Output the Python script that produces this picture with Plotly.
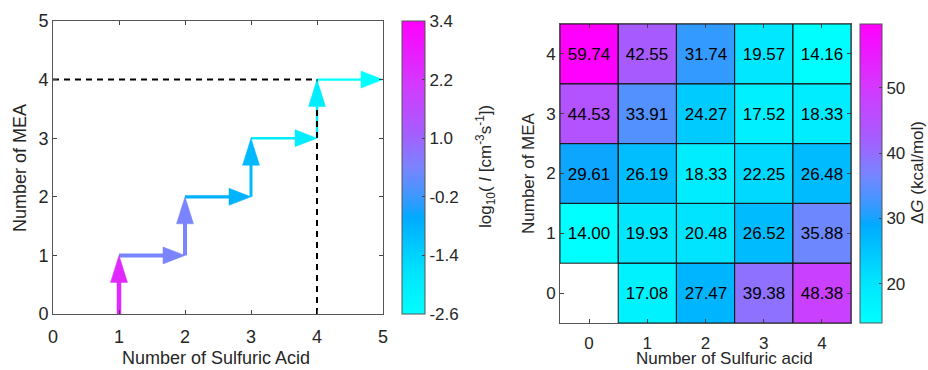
import plotly.graph_objects as go
from plotly.colors import sample_colorscale

# ---------------- data ----------------
# Left panel: growth pathway arrows (start -> end) and their log10(J) values
arrow_x0 = [1, 1, 2, 2, 3, 3, 4, 4]
arrow_y0 = [0, 1, 1, 2, 2, 3, 3, 4]
arrow_x1 = [1, 2, 2, 3, 3, 4, 4, 5]
arrow_y1 = [1, 1, 2, 2, 3, 3, 4, 4]
arrow_logJ = [2.5, 0.4, 0.4, -0.8, -0.9, -2.0, -2.0, -2.6]
guide_h_x = [0, 4]
guide_h_y = [4, 4]
guide_v_x = [4, 4]
guide_v_y = [0, 4]
logJ_ticks = [-2.6, -1.4, -0.2, 1.0, 2.2, 3.4]
axis_ticks_left = [0, 1, 2, 3, 4, 5]

# Right panel: free energy heat map  dG[MEA][SA]
n_sa = [0, 1, 2, 3, 4]
n_mea = [0, 1, 2, 3, 4]
dG_mea0 = [None, 17.08, 27.47, 39.38, 48.38]
dG_mea1 = [14.00, 19.93, 20.48, 26.52, 35.88]
dG_mea2 = [29.61, 26.19, 18.33, 22.25, 26.48]
dG_mea3 = [44.53, 33.91, 24.27, 17.52, 18.33]
dG_mea4 = [59.74, 42.55, 31.74, 19.57, 14.16]
dG_ticks = [20, 30, 40, 50]

# ---------------- style ----------------
FONT = "Liberation Sans, Arial, sans-serif"
TXT = "#262626"
cscale = [
    [0.0, "#00FFFF"], [0.15, "#00E2FF"], [0.33, "#00AAFF"], [0.36, "#1FA0FF"],
    [0.42, "#4A94FF"], [0.5, "#7A84FF"], [0.62, "#A65CFF"], [0.78, "#D23AFF"],
    [1.0, "#FF00FF"],
]
widths = [4.5, 4, 4, 3.2, 3, 2.4, 2.4, 2.2]
W, H = 928, 370
L_dom_x = [53 / W, 383 / W]
L_dom_y = [(H - 314) / H, (H - 21) / H]
R_dom_x = [560 / W, 851 / W]
R_dom_y = [(H - 323) / H, (H - 24) / H]
px_per_x = (383 - 53) / 5.0
px_per_y = (314 - 21) / 5.0
HEAD_LEN_V, HEAD_LEN_H, HEAD_HALF = 27.0, 22.0, 8.5

jmin, jmax = logJ_ticks[0], logJ_ticks[-1]
arrow_cols = sample_colorscale(cscale, [(v - jmin) / (jmax - jmin) for v in arrow_logJ])

fig = go.Figure()

# arrow shafts
heads = []
for i in range(len(arrow_x0)):
    dxp = (arrow_x1[i] - arrow_x0[i]) * px_per_x
    dyp = (arrow_y1[i] - arrow_y0[i]) * px_per_y
    lp = (dxp ** 2 + dyp ** 2) ** 0.5
    ux, uy = dxp / lp, dyp / lp
    hl = HEAD_LEN_V if abs(uy) > abs(ux) else HEAD_LEN_H
    bx = arrow_x1[i] - ux * hl / px_per_x
    by = arrow_y1[i] - uy * hl / px_per_y
    fig.add_trace(go.Scatter(
        x=[arrow_x0[i], bx + ux * 2 / px_per_x], y=[arrow_y0[i], by + uy * 2 / px_per_y],
        mode="lines", line=dict(color=arrow_cols[i], width=widths[i]),
        hoverinfo="skip", showlegend=False, xaxis="x", yaxis="y"))
    pxn, pyn = -uy, ux
    hx = [arrow_x1[i], bx + pxn * HEAD_HALF / px_per_x, bx - pxn * HEAD_HALF / px_per_x, arrow_x1[i]]
    hy = [arrow_y1[i], by + pyn * HEAD_HALF / px_per_y, by - pyn * HEAD_HALF / px_per_y, arrow_y1[i]]
    heads.append((hx, hy, arrow_cols[i]))

# dashed guides
for gx, gy in [(guide_h_x, guide_h_y), (guide_v_x, guide_v_y)]:
    fig.add_trace(go.Scatter(x=gx, y=gy, mode="lines",
                             line=dict(color="black", width=2, dash="6px,5px"),
                             hoverinfo="skip", showlegend=False, xaxis="x", yaxis="y"))

# arrow heads
for hx, hy, c in heads:
    fig.add_trace(go.Scatter(x=hx, y=hy, mode="lines", fill="toself", fillcolor=c,
                             line=dict(color=c, width=0.5), hoverinfo="skip",
                             showlegend=False, xaxis="x", yaxis="y"))

# colorbar for log10 J
fig.add_trace(go.Scatter(
    x=arrow_x0, y=arrow_y0, mode="markers",
    marker=dict(size=1, opacity=0, color=arrow_logJ, colorscale=cscale, cmin=jmin, cmax=jmax,
                showscale=True,
                colorbar=dict(
                    x=402 / W, xanchor="left", xref="paper",
                    y=(L_dom_y[0] + L_dom_y[1]) / 2, yanchor="middle", len=L_dom_y[1] - L_dom_y[0],
                    lenmode="fraction", thickness=23, thicknessmode="pixels",
                    outlinecolor="#555", outlinewidth=1,
                    tickvals=logJ_ticks, ticktext=[f"{v:.1f}" for v in logJ_ticks],
                    ticks="inside", ticklen=3, tickcolor="#444",
                    tickfont=dict(family=FONT, size=17, color=TXT), ypad=0, xpad=0)),
    hoverinfo="skip", showlegend=False, xaxis="x", yaxis="y"))

# heatmap
z = [dG_mea0, dG_mea1, dG_mea2, dG_mea3, dG_mea4]
txt = [[" " if v is None else f"{v:.2f}" for v in row] for row in z]
zvals = [v for row in z for v in row if v is not None]
fig.add_trace(go.Heatmap(
    x=n_sa, y=n_mea, z=z, text=txt, texttemplate="%{text}",
    textfont=dict(family=FONT, size=17, color="black"),
    colorscale=cscale, zmin=min(zvals), zmax=max(zvals), xaxis="x2", yaxis="y2",
    colorbar=dict(
        x=860 / W, xanchor="left", y=(R_dom_y[0] + R_dom_y[1]) / 2, yanchor="middle",
        len=R_dom_y[1] - R_dom_y[0], thickness=22, outlinecolor="#555", outlinewidth=1,
        tickvals=dG_ticks, ticks="inside", ticklen=3, tickcolor="#444",
        tickfont=dict(family=FONT, size=17, color=TXT), ypad=0, xpad=0),
    hoverinfo="skip"))

# cell borders
for j, row in enumerate(z):
    for i, v in enumerate(row):
        if v is None:
            continue
        fig.add_shape(type="rect", xref="x2", yref="y2",
                      x0=n_sa[i] - 0.5, x1=n_sa[i] + 0.5, y0=n_mea[j] - 0.5, y1=n_mea[j] + 0.5,
                      line=dict(color="#1a1a1a", width=1), layer="above")

# axis / colorbar titles as annotations (paper coords)
def ann(text, xp, yp, size, angle=0, yanchor="middle"):
    fig.add_annotation(text=text, x=xp / W, y=1 - yp / H, xref="paper", yref="paper",
                       showarrow=False, textangle=angle, xanchor="center", yanchor=yanchor,
                       font=dict(family=FONT, size=size, color=TXT), borderpad=0)

ann("Number of Sulfuric Acid", 216, 358, 18)
ann("Number of MEA", 20, 168, 18, -90)
ann("Number of Sulfuric acid", 724, 358, 17)
ann("Number of MEA", 528, 173, 17, -90)
ann("log<sub>10</sub>( <i>I</i> [cm<sup>-3</sup>s<sup>-1</sup>])", 485, 167, 17, -90)
ann("Δ<i>G</i> (kcal/mol)", 917, 173, 17, -90)

ax_common = dict(showgrid=False, zeroline=False, showline=True, linecolor="#555", linewidth=1,
                 mirror="ticks", ticks="inside", ticklen=4, tickcolor="#444")
fig.update_layout(
    width=W, height=H, margin=dict(l=0, r=0, t=0, b=0, autoexpand=False),
    paper_bgcolor="white", plot_bgcolor="white",
    font=dict(family=FONT, color=TXT),
    xaxis=dict(domain=L_dom_x, range=[0, 5], tickvals=axis_ticks_left,
               tickfont=dict(size=18), anchor="y", ticklabelstandoff=6, **ax_common),
    yaxis=dict(domain=L_dom_y, range=[0, 5], tickvals=axis_ticks_left,
               tickfont=dict(size=18), anchor="x", ticklabelstandoff=0, **ax_common),
    xaxis2=dict(domain=R_dom_x, range=[-0.5, 4.5], tickvals=n_sa, anchor="y2",
                tickfont=dict(size=17), ticklabelstandoff=5, **ax_common),
    yaxis2=dict(domain=R_dom_y, range=[-0.5, 4.5], tickvals=n_mea, anchor="x2",
                tickfont=dict(size=17), ticklabelstandoff=0, **ax_common),
)

fig.write_html("out.html")
